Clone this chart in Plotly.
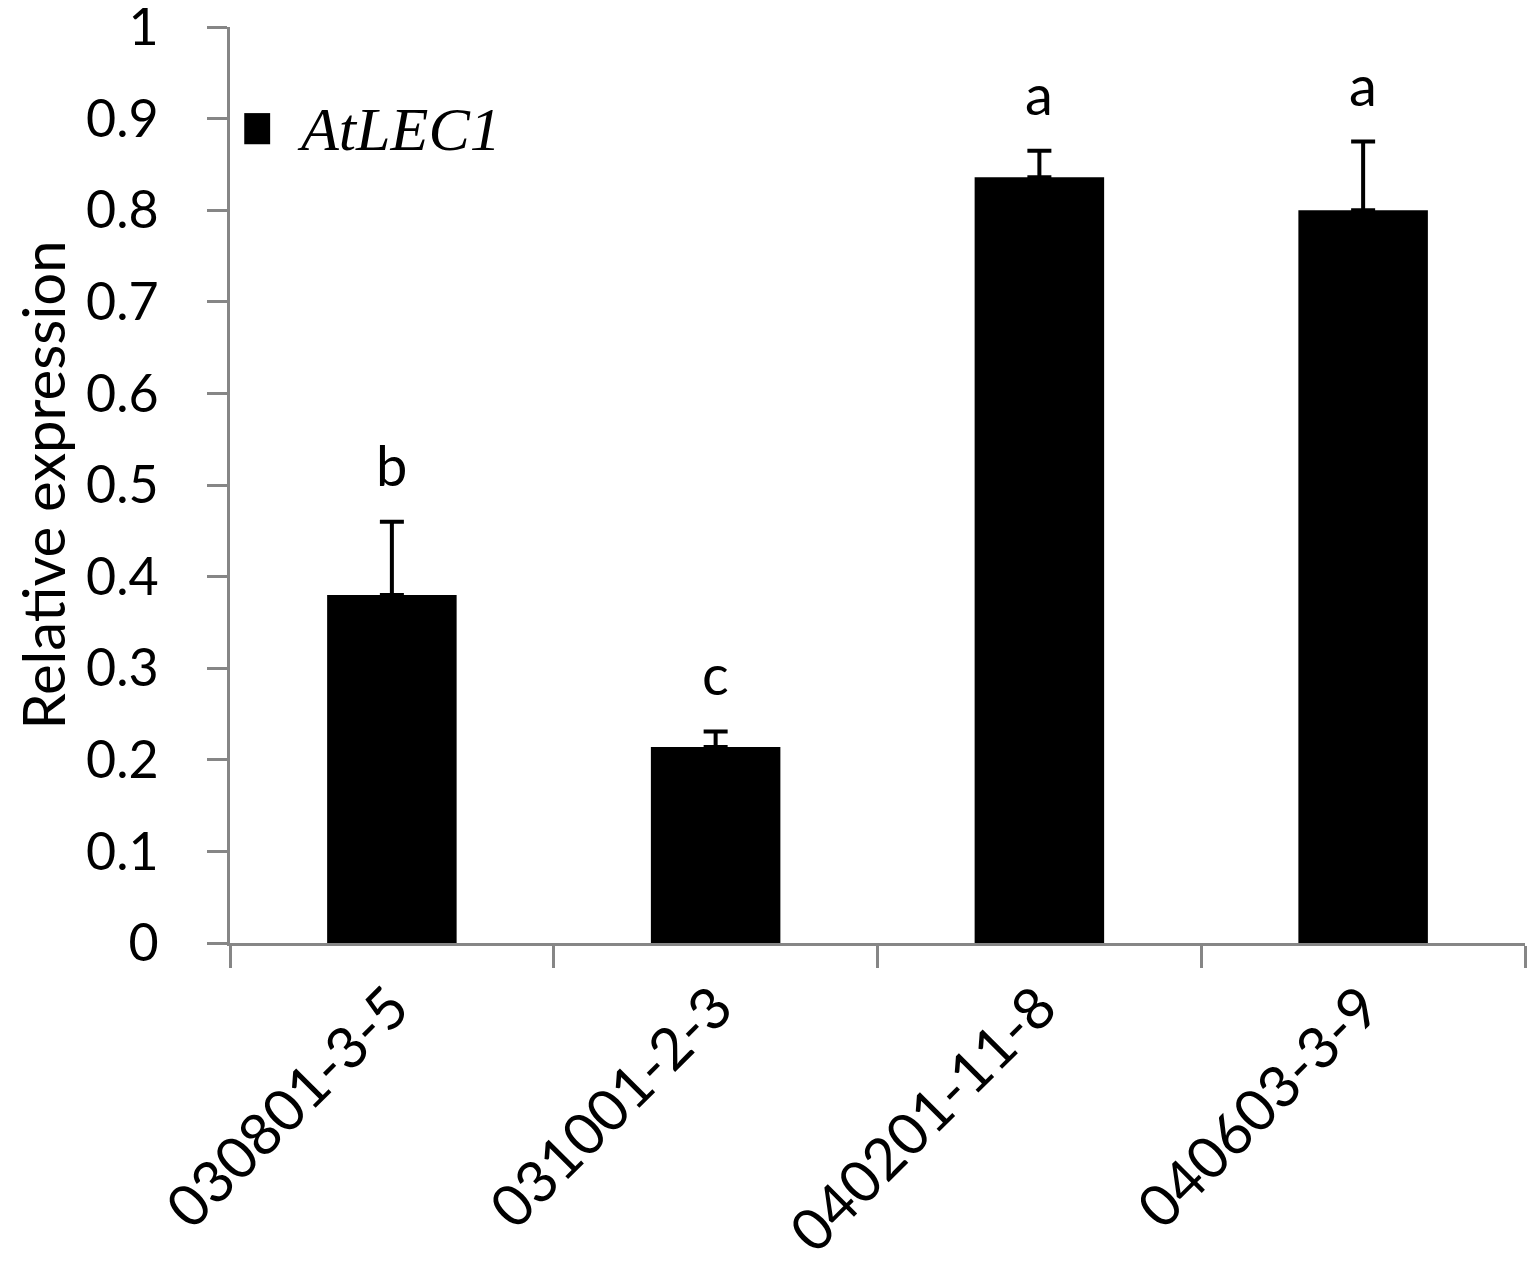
import plotly.graph_objects as go

lines = ['030801-3-5', '031001-2-3', '040201-11-8', '040603-3-9']
expression = [0.38, 0.214, 0.836, 0.80]
sd = [0.08, 0.017, 0.029, 0.075]
letters = ['b', 'c', 'a', 'a']
ytick_vals = [0, 0.1, 0.2, 0.3, 0.4, 0.5, 0.6, 0.7, 0.8, 0.9, 1]
ytick_text = ['0', '0.1', '0.2', '0.3', '0.4', '0.5', '0.6', '0.7', '0.8', '0.9', '1']

sans = 'Lato'
axis_grey = '#868686'

fig = go.Figure()

fig.add_trace(go.Bar(
    x=lines,
    y=expression,
    marker=dict(color='black', line=dict(width=0)),
    error_y=dict(type='data', array=sd, symmetric=False, arrayminus=[0] * len(sd),
                 color='black', thickness=4, width=12),
    width=0.4,
    showlegend=False,
))

# significance letters above the error bars
for cat, val, err, lab in zip(lines, expression, sd, letters):
    fig.add_annotation(
        x=cat, y=val + err, text=lab, showarrow=False,
        yanchor='bottom', yshift=22,
        font=dict(family=sans, size=56, color='black'),
    )

# legend: black square + italic gene name
fig.add_shape(type='rect', xref='paper', yref='paper',
              x0=0.011, x1=0.031, y0=0.872, y1=0.906,
              fillcolor='black', line=dict(width=0))
fig.add_annotation(
    xref='paper', yref='paper', x=0.05, y=0.889,
    xanchor='left', yanchor='middle', showarrow=False,
    text='<i>AtLEC1</i>',
    font=dict(family='Liberation Serif', size=62, color='black'),
)

# page body adds an 8px margin, so the figure is a bit smaller than the window
fig.update_layout(
    width=1529,
    height=1264,
    margin=dict(l=222, r=12, t=19, b=329),
    plot_bgcolor='white',
    paper_bgcolor='white',
    font=dict(family=sans, color='black'),
    bargap=0.6,
)

fig.update_xaxes(
    showline=True, linecolor=axis_grey, linewidth=3,
    ticks='outside', ticklen=22, tickwidth=3, tickcolor=axis_grey,
    tickson='boundaries',
    tickangle=-45,
    tickfont=dict(family=sans, size=58, color='black'),
    ticklabelstandoff=4,
    showgrid=False,
    automargin=False,
)

fig.update_yaxes(
    range=[0, 1], tickvals=ytick_vals, ticktext=ytick_text,
    showline=True, linecolor=axis_grey, linewidth=3,
    ticks='outside', ticklen=20, tickwidth=3, tickcolor=axis_grey,
    tickfont=dict(family=sans, size=52, color='black'),
    ticklabelstandoff=38,
    ticklabeloverflow='allow',
    title=dict(text='Relative expression', font=dict(family=sans, size=58, color='black'),
               standoff=30),
    showgrid=False, zeroline=False,
    automargin=False,
)

fig.write_html('out.html')
